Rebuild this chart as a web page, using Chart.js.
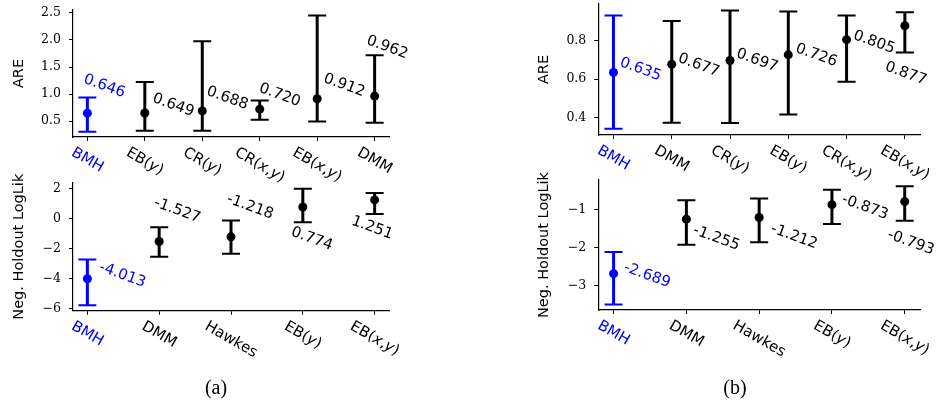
<!DOCTYPE html>
<html>
<head>
<meta charset="utf-8">
<script src="https://cdn.jsdelivr.net/npm/chart.js@4"></script>
<style>
    body { margin: 0; background: #fff; width: 937px; height: 407px; position: relative; overflow: hidden; }
    canvas { position: absolute; left: 0; top: 0; }
    .cap { position: absolute; top: 374px; width: 60px; text-align: center; font: 20px "Liberation Serif", serif; color: #000; line-height: 26px; }
</style>
</head>
<body>
<canvas id="areA" width="937" height="407"></canvas>
<canvas id="llA" width="937" height="407"></canvas>
<canvas id="areB" width="937" height="407"></canvas>
<canvas id="llB" width="937" height="407"></canvas>
<div class="cap" style="left:186px">(a)</div>
<div class="cap" style="left:705px">(b)</div>
<script>
// (a) ARE
const areCatsA = ['BMH', 'EB(y)', 'CR(y)', 'CR(x,y)', 'EB(x,y)', 'DMM'];
const areMeanA = [0.646, 0.649, 0.688, 0.720, 0.912, 0.962];
const areLowA  = [0.303, 0.322, 0.320, 0.524, 0.493, 0.469];
const areHighA = [0.934, 1.222, 1.976, 0.879, 2.454, 1.719];
const areTicksA = [0.5, 1.0, 1.5, 2.0, 2.5];

// (a) Neg. Holdout LogLik
const llCatsA = ['BMH', 'DMM', 'Hawkes', 'EB(y)', 'EB(x,y)'];
const llMeanA = [-4.013, -1.527, -1.218, 0.774, 1.251];
const llLowA  = [-5.78, -2.55, -2.35, -0.24, 0.31];
const llHighA = [-2.73, -0.58, -0.13, 2.00, 1.71];
const llTicksA = [-6, -4, -2, 0, 2];

// (b) ARE
const areCatsB = ['BMH', 'DMM', 'CR(y)', 'EB(y)', 'CR(x,y)', 'EB(x,y)'];
const areMeanB = [0.635, 0.677, 0.697, 0.726, 0.805, 0.877];
const areLowB  = [0.343, 0.374, 0.372, 0.416, 0.587, 0.738];
const areHighB = [0.930, 0.902, 0.956, 0.951, 0.930, 0.947];
const areTicksB = [0.4, 0.6, 0.8];

// (b) Neg. Holdout LogLik
const llCatsB = ['BMH', 'DMM', 'Hawkes', 'EB(y)', 'EB(x,y)'];
const llMeanB = [-2.689, -1.255, -1.212, -0.873, -0.793];
const llLowB  = [-3.50, -1.93, -1.86, -1.38, -1.30];
const llHighB = [-2.12, -0.76, -0.71, -0.48, -0.39];
const llTicksB = [-3, -2, -1];

// value label placement (px offset from the point)
const offAreA = [[17, -27], [28.5, -7.7], [25, -12.6], [20, -14], [27, -13.4], [12.5, -48.7]];
const offLlA  = [[35, -3.7], [18, -31], [19, -30], [9, 32], [-2.5, 28]];
const offAreB = [[27, -3], [27, 1], [27, 0], [28, 0.5], [27.5, 2.7], [1, 48]];
const offLlB  = [[33.5, 1.6], [30, 19], [35, 19], [33, 2.6], [6, 41]];

const BLUE = '#0000ff';
const BLACK = '#000000';
const SANS = '"DejaVu Sans", sans-serif';
Chart.defaults.color = '#000';

// italic x / y inside parentheses, like mathtext
function splitMath(text) {
    const parts = [];
    let inParen = false;
    for (const ch of text) {
        if (ch === '(') inParen = true;
        if (ch === ')') inParen = false;
        const it = inParen && (ch === 'x' || ch === 'y');
        const last = parts[parts.length - 1];
        if (last && last.it === it) last.t += ch;
        else parts.push({ t: ch, it: it });
    }
    return parts;
}

function drawCategory(ctx, text, cx, top, color) {
    const size = 15, ang = 30 * Math.PI / 180;
    const parts = splitMath(text);
    let L = 0;
    parts.forEach(pt => {
        ctx.font = (pt.it ? 'italic ' : '') + size + 'px ' + SANS;
        pt.w = ctx.measureText(pt.t).width;
        L += pt.w;
    });
    const h = size * 1.17;
    const H = L * Math.sin(ang) + h * Math.cos(ang);
    ctx.save();
    ctx.translate(cx, top + H / 2);
    ctx.rotate(ang);
    ctx.fillStyle = color;
    ctx.textBaseline = 'middle';
    ctx.textAlign = 'left';
    let xx = -L / 2;
    parts.forEach(pt => {
        ctx.font = (pt.it ? 'italic ' : '') + size + 'px ' + SANS;
        ctx.fillText(pt.t, xx, 0);
        xx += pt.w;
    });
    ctx.restore();
}

function makeChart(canvasId, p) {
    const colors = p.cats.map(c => c === 'BMH' ? BLUE : BLACK);

    const panelPlugin = {
        id: 'panel_' + canvasId,
        beforeDatasetsDraw(chart) {
            const { ctx, scales: { x, y } } = chart;
            ctx.save();
            p.mean.forEach((m, i) => {
                const px = x.getPixelForValue(i);
                const yl = y.getPixelForValue(p.low[i]);
                const yh = y.getPixelForValue(p.high[i]);
                ctx.strokeStyle = colors[i];
                ctx.lineWidth = 3;
                ctx.beginPath();
                ctx.moveTo(px, yl);
                ctx.lineTo(px, yh);
                ctx.stroke();
                ctx.lineWidth = 2;
                ctx.beginPath();
                ctx.moveTo(px - 9, yl); ctx.lineTo(px + 9, yl);
                ctx.moveTo(px - 9, yh); ctx.lineTo(px + 9, yh);
                ctx.stroke();
            });
            ctx.restore();
        },
        afterDraw(chart) {
            const { ctx, chartArea, scales: { x, y } } = chart;
            // value labels
            p.mean.forEach((m, i) => {
                const px = x.getPixelForValue(i) + p.off[i][0];
                const py = y.getPixelForValue(m) + p.off[i][1];
                ctx.save();
                ctx.translate(px, py);
                ctx.rotate(20 * Math.PI / 180);
                ctx.font = '15px ' + SANS;
                ctx.fillStyle = colors[i];
                ctx.textAlign = 'center';
                ctx.textBaseline = 'middle';
                ctx.fillText(m.toFixed(3), 0, 0);
                ctx.restore();
            });
            // category labels
            p.cats.forEach((c, i) => {
                drawCategory(ctx, c, x.getPixelForValue(i), chartArea.bottom + 7, colors[i]);
            });
        }
    };

    return new Chart(document.getElementById(canvasId), {
        type: 'scatter',
        data: {
            datasets: [{
                data: p.mean.map((v, i) => ({ x: i, y: v })),
                pointRadius: 4.5,
                pointHoverRadius: 4.5,
                pointBackgroundColor: colors,
                pointBorderWidth: 0
            }]
        },
        options: {
            responsive: false,
            animation: false,
            devicePixelRatio: 1,
            layout: { autoPadding: false, padding: p.pad },
            plugins: { legend: { display: false }, tooltip: { enabled: false } },
            scales: {
                x: {
                    type: 'linear',
                    min: -p.margin,
                    max: p.cats.length - 1 + p.margin,
                    afterBuildTicks: s => { s.ticks = p.cats.map((_, i) => ({ value: i })); },
                    afterFit: s => { s.height = 10; s.paddingLeft = 0; s.paddingRight = 0; },
                    ticks: { display: false },
                    grid: { drawOnChartArea: false, drawTicks: true, tickLength: 4, color: '#000', lineWidth: 1 },
                    border: { color: '#000', width: 1.2 }
                },
                y: {
                    min: p.ymin,
                    max: p.ymax,
                    afterBuildTicks: s => { s.ticks = p.ticks.map(v => ({ value: v })); },
                    afterFit: s => { s.width = p.yWidth; s.paddingTop = 0; s.paddingBottom = 0; },
                    ticks: {
                        padding: 8,
                        color: '#000',
                        font: { family: '"DejaVu Serif", serif', size: 12.5 },
                        callback: v => p.fmt(v)
                    },
                    grid: { drawOnChartArea: false, drawTicks: true, tickLength: 4, color: '#000', lineWidth: 1 },
                    border: { color: '#000', width: 1.2 },
                    title: {
                        display: true,
                        text: p.title,
                        color: '#000',
                        font: { family: SANS, size: 14.5 },
                        padding: { top: 6, bottom: 0 }
                    }
                }
            }
        },
        plugins: [panelPlugin]
    });
}

const fmtDec = v => v.toFixed(1);
const fmtInt = v => (v < 0 ? '\u2212' + Math.abs(v) : String(v));

makeChart('areA', {
    cats: areCatsA, mean: areMeanA, low: areLowA, high: areHighA, ticks: areTicksA, off: offAreA,
    title: 'ARE', fmt: fmtDec, ymin: 0.205, ymax: 2.555, margin: 0.25,
    pad: { left: 5, top: 10, right: 548, bottom: 260 }, yWidth: 68
});
makeChart('llA', {
    cats: llCatsA, mean: llMeanA, low: llLowA, high: llHighA, ticks: llTicksA, off: offLlA,
    title: 'Neg. Holdout LogLik', fmt: fmtInt, ymin: -6.15, ymax: 2.4, margin: 0.2,
    pad: { left: 5, top: 182.7, right: 548, bottom: 86.3 }, yWidth: 68
});
makeChart('areB', {
    cats: areCatsB, mean: areMeanB, low: areLowB, high: areHighB, ticks: areTicksB, off: offAreB,
    title: 'ARE', fmt: fmtDec, ymin: 0.31, ymax: 0.99, margin: 0.26,
    pad: { left: 530, top: 4, right: 17, bottom: 262 }, yWidth: 68.3
});
makeChart('llB', {
    cats: llCatsB, mean: llMeanB, low: llLowB, high: llHighB, ticks: llTicksB, off: offLlB,
    title: 'Neg. Holdout LogLik', fmt: fmtInt, ymin: -3.645, ymax: -0.225, margin: 0.21,
    pad: { left: 530, top: 180, right: 17, bottom: 87 }, yWidth: 68.3
});
</script>
</body>
</html>
